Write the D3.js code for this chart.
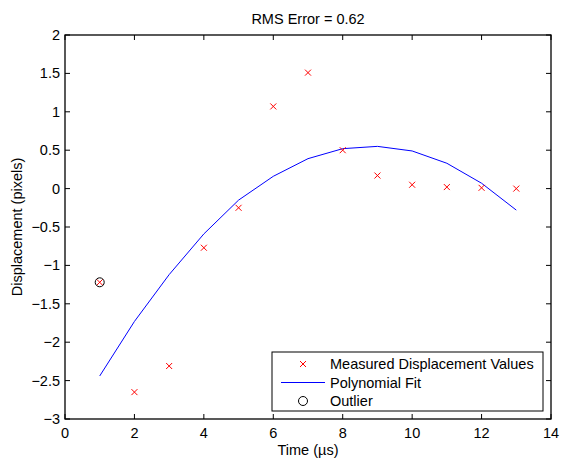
<!DOCTYPE html>
<html>
<head>
<meta charset="utf-8">
<script src="https://cdn.jsdelivr.net/npm/d3@7"></script>
<style>
  body { margin: 0; background: #fff; }
  svg text { font-family: "Liberation Sans", Arial, Helvetica, sans-serif; }
</style>
</head>
<body>
<svg id="chart" width="561" height="462"></svg>
<script>
// Sample times (µs)
const times = [1, 2, 3, 4, 5, 6, 7, 8, 9, 10, 11, 12, 13];
// Measured displacement (pixels)
const measured = [-1.22, -2.65, -2.31, -0.77, -0.25, 1.07, 1.51, 0.50, 0.17, 0.05, 0.02, 0.01, 0.00];
// Polynomial fit evaluated at each sample time
const fitted = [-2.44, -1.73, -1.12, -0.59, -0.15, 0.16, 0.39, 0.52, 0.55, 0.49, 0.33, 0.07, -0.28];
// Outlier sample
const outlierTimes = [1];
const outlierValues = [-1.22];
const xTicks = [0, 2, 4, 6, 8, 10, 12, 14];
const yTicks = [-3, -2.5, -2, -1.5, -1, -0.5, 0, 0.5, 1, 1.5, 2];
const legendLabels = ["Measured Displacement Values", "Polynomial Fit", "Outlier"];
const rmsError = 0.62;

const svg = d3.select("#chart");
const plot = { left: 65, right: 551, top: 35, bottom: 419 };
const fs = 14.5;

const x = d3.scaleLinear().domain([0, 14]).range([plot.left, plot.right]);
const y = d3.scaleLinear().domain([-3, 2]).range([plot.bottom, plot.top]);

const fmt = d => (d < 0 ? "\u2212" + Math.abs(d) : String(d));

// Frame
svg.append("rect")
  .attr("x", plot.left).attr("y", plot.top)
  .attr("width", plot.right - plot.left).attr("height", plot.bottom - plot.top)
  .attr("fill", "none").attr("stroke", "#000").attr("stroke-width", 1.3);

// Inward ticks on all four sides
const tl = 5;
const tg = svg.append("g").attr("stroke", "#000").attr("stroke-width", 1);
xTicks.forEach(t => {
  tg.append("line").attr("x1", x(t)).attr("x2", x(t)).attr("y1", plot.bottom).attr("y2", plot.bottom - tl);
  tg.append("line").attr("x1", x(t)).attr("x2", x(t)).attr("y1", plot.top).attr("y2", plot.top + tl);
});
yTicks.forEach(t => {
  tg.append("line").attr("x1", plot.left).attr("x2", plot.left + tl).attr("y1", y(t)).attr("y2", y(t));
  tg.append("line").attr("x1", plot.right).attr("x2", plot.right - tl).attr("y1", y(t)).attr("y2", y(t));
});

// Tick labels
svg.append("g").selectAll("text").data(xTicks).join("text")
  .attr("x", d => x(d)).attr("y", plot.bottom + 19)
  .attr("text-anchor", "middle").attr("font-size", fs).attr("fill", "#000")
  .text(fmt);
svg.append("g").selectAll("text").data(yTicks).join("text")
  .attr("x", plot.left - 5).attr("y", d => y(d)).attr("dy", "0.35em")
  .attr("text-anchor", "end").attr("font-size", fs).attr("fill", "#000")
  .text(fmt);

// Axis titles
svg.append("text").attr("x", (plot.left + plot.right) / 2).attr("y", 455)
  .attr("text-anchor", "middle").attr("font-size", fs).text("Time (\u00b5s)");
svg.append("text")
  .attr("transform", `translate(22,${(plot.top + plot.bottom) / 2}) rotate(-90)`)
  .attr("text-anchor", "middle").attr("font-size", fs).text("Displacement (pixels)");
svg.append("text").attr("x", (plot.left + plot.right) / 2).attr("y", 24)
  .attr("text-anchor", "middle").attr("font-size", fs).text(`RMS Error = ${rmsError}`);

// Fitted curve
const line = d3.line().x((d, i) => x(times[i])).y(d => y(d));
svg.append("path").datum(fitted)
  .attr("d", line).attr("fill", "none").attr("stroke", "#0000ff").attr("stroke-width", 1);

// Cross marker
const cross = (g, cx, cy, s) => {
  g.append("line").attr("x1", cx - s).attr("y1", cy - s).attr("x2", cx + s).attr("y2", cy + s);
  g.append("line").attr("x1", cx - s).attr("y1", cy + s).attr("x2", cx + s).attr("y2", cy - s);
};
const mg = svg.append("g").attr("stroke", "#ff0000").attr("stroke-width", 1);
measured.forEach((v, i) => cross(mg, x(times[i]), y(v), 3));

// Outlier circle
svg.append("g").selectAll("circle").data(outlierValues).join("circle")
  .attr("cx", (d, i) => x(outlierTimes[i])).attr("cy", d => y(d)).attr("r", 4.5)
  .attr("fill", "none").attr("stroke", "#000").attr("stroke-width", 1);

// Legend
const lg = svg.append("g");
lg.append("rect").attr("x", 272).attr("y", 352).attr("width", 271).attr("height", 59)
  .attr("fill", "#fff").attr("stroke", "#000").attr("stroke-width", 1);
const rowY = [364, 382.5, 401];
cross(lg.append("g").attr("stroke", "#ff0000").attr("stroke-width", 1), 303, rowY[0], 3);
lg.append("line").attr("x1", 281).attr("x2", 325).attr("y1", rowY[1]).attr("y2", rowY[1])
  .attr("stroke", "#0000ff").attr("stroke-width", 1);
lg.append("circle").attr("cx", 303).attr("cy", rowY[2]).attr("r", 4.5)
  .attr("fill", "none").attr("stroke", "#000").attr("stroke-width", 1);
lg.selectAll("text").data(legendLabels).join("text")
  .attr("x", 330).attr("y", (d, i) => rowY[i]).attr("dy", "0.35em")
  .attr("font-size", fs).attr("fill", "#000").text(d => d);
</script>
</body>
</html>
